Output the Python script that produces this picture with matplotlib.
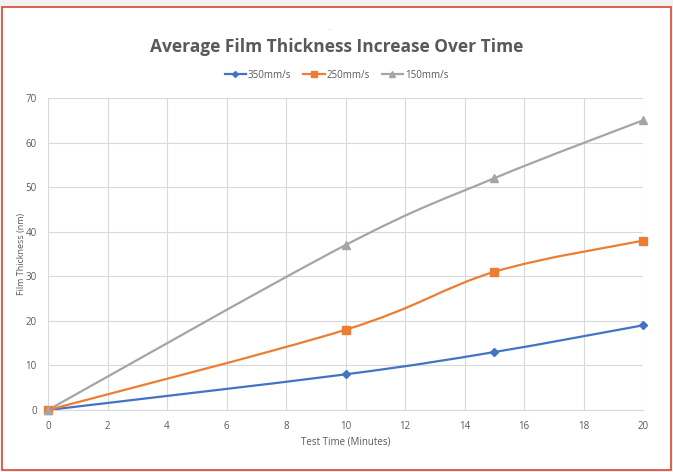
import matplotlib.pyplot as plt
from matplotlib.patches import Rectangle, PathPatch
from matplotlib.path import Path
import numpy as np

plt.rcParams['font.family'] = ['Open Sans', 'DejaVu Sans']

# data
time_min = [0, 10, 15, 20]
speed_350 = [0, 8, 13, 19]
speed_250 = [0, 18, 31, 38]
speed_150 = [0, 37, 52, 65]

series_names = ['350mm/s', '250mm/s', '150mm/s']
series_colors = ['#4472C4', '#ED7D31', '#A5A5A5']
series_markers = ['D', 's', '^']
marker_sizes = [4, 6, 6]

TEXT = '#595959'
GRID = '#D9D9D9'


def smooth_path(xs, ys):
    """Excel-like smoothed line as cubic Bezier segments (Catmull-Rom)."""
    pts = np.column_stack([xs, ys]).astype(float)
    ext = np.vstack([pts[0], pts, pts[-1]])
    verts = [pts[0]]
    codes = [Path.MOVETO]
    for i in range(1, len(ext) - 2):
        p0, p1, p2, p3 = ext[i - 1], ext[i], ext[i + 1], ext[i + 2]
        c1 = p1 + (p2 - p0) / 6.0
        c2 = p2 - (p3 - p1) / 6.0
        verts += [c1, c2, p2]
        codes += [Path.CURVE4] * 3
    return Path(verts, codes)


fig = plt.figure(figsize=(6.73, 4.72), dpi=100)
fig.patch.set_facecolor('#F2F2F2')
fig.patches.append(Rectangle((2 / 673, 2 / 472), 669 / 673, 463 / 472,
                             transform=fig.transFigure, facecolor='white',
                             edgecolor='#D9452C', linewidth=1.2, zorder=-5))

ax = fig.add_axes([48 / 673, 1 - 410 / 472, 595 / 673, 312 / 472])
ax.set_facecolor('none')

for ys, name, col, mk, ms in zip([speed_350, speed_250, speed_150], series_names,
                                 series_colors, series_markers, marker_sizes):
    ax.add_patch(PathPatch(smooth_path(time_min, ys), facecolor='none',
                           edgecolor=col, linewidth=1.6, zorder=3))
    ax.plot(time_min, ys, linestyle='none', marker=mk, markersize=ms,
            color=col, zorder=4, clip_on=False)
    ax.plot([], [], color=col, marker=mk, markersize=ms - 1, linewidth=1.6,
            label=name)

ax.set_xlim(0, 20)
ax.set_ylim(0, 70)
ax.set_xticks(range(0, 21, 2))
ax.set_yticks(range(0, 71, 10))
ax.grid(True, color=GRID, linewidth=0.8)
ax.set_axisbelow(True)
for side in ['top', 'right', 'left']:
    ax.spines[side].set_visible(False)
ax.spines['bottom'].set_color(GRID)
ax.tick_params(length=0, labelsize=7, labelcolor=TEXT, pad=8)
ax.set_xlabel('Test Time (Minutes)', fontsize=7, color=TEXT, labelpad=3)
ax.set_ylabel('Film Thickness (nm)', fontsize=6.5, color=TEXT)
ax.yaxis.set_label_coords(-22 / 595, 0.5)

fig.text(0.5, 1 - 47 / 472, 'Average Film Thickness Increase Over Time',
         ha='center', va='center', fontsize=12.5, fontweight='bold', color=TEXT)
fig.text(330 / 673, 1 - 30 / 472, '-', ha='center', va='center',
         fontsize=4, color='#A0A0A0')

fig.legend(loc='center', bbox_to_anchor=(0.5, 1 - 75 / 472), ncol=3,
           frameon=False, fontsize=7, labelcolor=TEXT, handlelength=2.2,
           handletextpad=0.2, columnspacing=1.2)

fig.savefig('out.png', dpi=100)
